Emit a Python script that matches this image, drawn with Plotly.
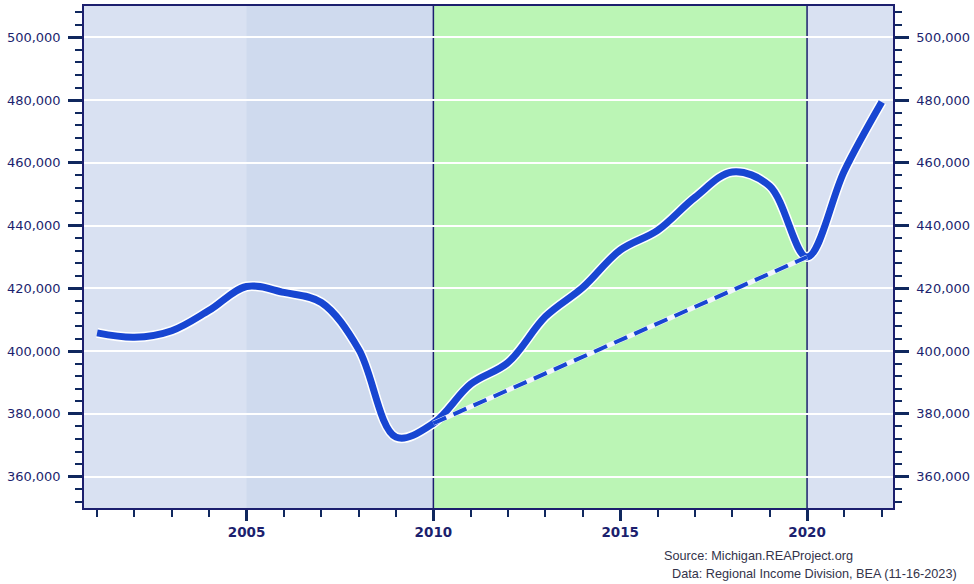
import plotly.graph_objects as go

# ---- data ----
years = list(range(2001, 2023))
values = [405800, 404400, 406500, 413000, 420600, 418700, 415500, 400600,
          372600, 377000, 389500, 396400, 411000, 420300, 432200, 438500,
          449000, 457100, 452600, 430000, 457500, 479400]
trend_years = [2010, 2020]
trend_values = [values[years.index(2010)], values[years.index(2020)]]

y_ticks = [360000, 380000, 400000, 420000, 440000, 460000, 480000, 500000]
y_labels = [f"{v:,}" for v in y_ticks]
x_ticks = [2005, 2010, 2015, 2020]

source_lines = ["Source: Michigan.REAProject.org",
                "Data: Regional Income Division, BEA (11-16-2023)"]

# ---- style ----
NAVY = "#1c1f6e"
TICKC = "#10285e"
LINEC = "#1846d2"
BG_LIGHT = "#d9e1f2"
BG_DARK = "#cfdaee"
BG_GREEN = "#bbf5b5"
XR = [2000.65, 2022.3]
YR = [350000, 510000]

fig = go.Figure()

# halo + main line
fig.add_trace(go.Scatter(x=years, y=values, mode="lines",
                         line=dict(color="white", width=10, shape="spline"),
                         hoverinfo="skip", showlegend=False))
fig.add_trace(go.Scatter(x=years, y=values, mode="lines",
                         line=dict(color=LINEC, width=7, shape="spline"),
                         showlegend=False))
# trend dashed line
fig.add_trace(go.Scatter(x=trend_years, y=trend_values, mode="lines",
                         line=dict(color="#f2f5fc", width=5),
                         hoverinfo="skip", showlegend=False))
fig.add_trace(go.Scatter(x=trend_years, y=trend_values, mode="lines",
                         line=dict(color=LINEC, width=4, dash="14px,8px"),
                         showlegend=False))
# invisible trace for right axis
fig.add_trace(go.Scatter(x=[XR[0]], y=[YR[0]], yaxis="y2", mode="markers",
                         marker=dict(opacity=0), hoverinfo="skip", showlegend=False))

shapes = [
    dict(type="rect", xref="x", yref="paper", x0=2005, x1=2010, y0=0, y1=1,
         fillcolor=BG_DARK, line_width=0, layer="below"),
    dict(type="rect", xref="x", yref="paper", x0=2010, x1=2020, y0=0, y1=1,
         fillcolor=BG_GREEN, line_width=0, layer="below"),
    dict(type="rect", xref="x", yref="paper", x0=2020, x1=XR[1], y0=0, y1=1,
         fillcolor=BG_LIGHT, line_width=0, layer="below"),
    dict(type="line", xref="x", yref="paper", x0=2010, x1=2010, y0=0, y1=1,
         line=dict(color=NAVY, width=1.5), layer="between"),
    dict(type="line", xref="x", yref="paper", x0=2020, x1=2020, y0=0, y1=1,
         line=dict(color=NAVY, width=1.5), layer="between"),
]

yaxis_common = dict(
    range=YR, tickvals=y_ticks, ticktext=y_labels,
    ticks="outside", ticklen=14, tickwidth=3, tickcolor=TICKC,
    minor=dict(ticks="outside", dtick=4000, tick0=0, ticklen=7,
               tickwidth=1.5, tickcolor=TICKC, showgrid=False),
    tickfont=dict(family="DejaVu Sans", size=13, color=NAVY),
    showline=True, linecolor=NAVY, linewidth=1.5,
    zeroline=False, ticklabelstandoff=5, automargin=False,
)

fig.update_layout(
    width=974, height=584,
    margin=dict(l=84, r=81, t=6, b=76),
    paper_bgcolor="white", plot_bgcolor=BG_LIGHT,
    shapes=shapes,
    xaxis=dict(range=XR, tickvals=x_ticks, ticks="outside", ticklen=11,
               tickwidth=3, tickcolor=TICKC,
               minor=dict(ticks="outside", dtick=1, tick0=2000, ticklen=7,
                          tickwidth=1.5, tickcolor=TICKC, showgrid=False),
               tickfont=dict(family="DejaVu Sans", size=13.5, color=NAVY,
                             weight="bold"),
               showline=True, linecolor=NAVY, linewidth=1.5, mirror=True,
               showgrid=False, zeroline=False, automargin=False),
    yaxis=dict(**yaxis_common, showgrid=True, gridcolor="white", gridwidth=1.5),
    yaxis2=dict(**yaxis_common, overlaying="y", side="right", showgrid=False),
    annotations=[
        dict(text=source_lines[0], xref="paper", yref="paper",
             x=(662 - 84) / 809, y=(508 - 556) / 502, xanchor="left", yanchor="middle",
             showarrow=False, font=dict(family="Liberation Sans", size=12.7, color="#33334a")),
        dict(text=source_lines[1], xref="paper", yref="paper",
             x=(670 - 84) / 809, y=(508 - 574) / 502, xanchor="left", yanchor="middle",
             showarrow=False, font=dict(family="Liberation Sans", size=12.7, color="#33334a")),
    ],
)

fig.write_html("out.html", config={"displayModeBar": False})

# remove the browser's default 8px body margin so the figure fills the window
with open("out.html", "r", encoding="utf-8") as f:
    html = f.read()
html = html.replace("<head>", "<head><style>html,body{margin:0;padding:0;overflow:hidden;}</style>", 1)
with open("out.html", "w", encoding="utf-8") as f:
    f.write(html)
